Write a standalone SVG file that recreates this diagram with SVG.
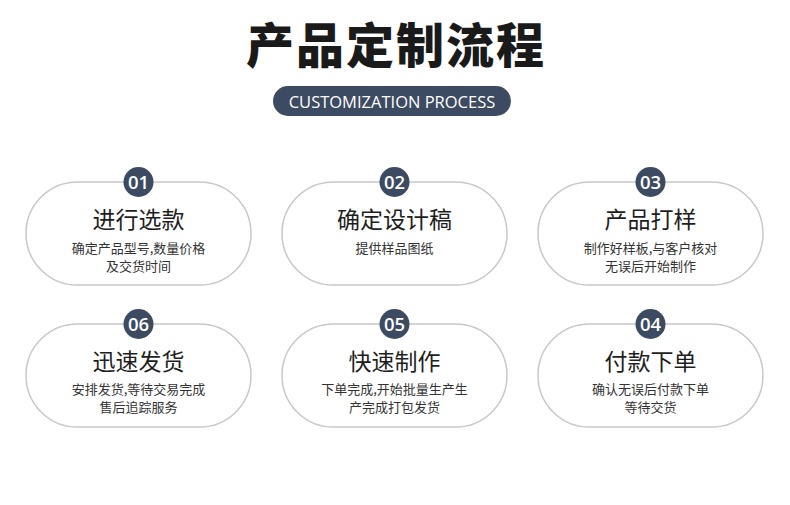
<svg xmlns="http://www.w3.org/2000/svg" width="790" height="505" viewBox="0 0 790 505">
<style>
.cjk{font-family:"Noto Sans CJK SC","Noto Sans",sans-serif;text-anchor:middle}
.title{font-size:48px;font-weight:800;fill:#1a1a1a;letter-spacing:2px}
.pill{fill:#fff;stroke:#c8c8c8;stroke-width:1.5}
.num-bg{fill:#3c4a62}
.num{font-family:"Open Sans","Noto Sans",sans-serif;font-size:18.5px;font-weight:600;fill:#fff;text-anchor:middle}
.head{font-size:23px;fill:#1e1e1e}
.desc{font-size:13px;fill:#333}
.badge-t{font-family:"Open Sans","Noto Sans",sans-serif;font-size:16.5px;font-weight:500;fill:#fff;text-anchor:middle}
</style>
<rect width="790" height="505" fill="#fff"/>
<g id="header">
<text class="cjk title" x="396" y="63">产品定制流程</text>
<rect x="273" y="86" width="238" height="30" rx="15" class="num-bg"/>
<text class="badge-t" x="392" y="107.5">CUSTOMIZATION PROCESS</text>
</g>
<g id="step01">
<rect class="pill" x="26" y="182" width="225" height="103" rx="51.5"/>
<circle class="num-bg" cx="138.5" cy="182" r="15"/>
<text class="num" x="138.5" y="188.5">01</text>
<text class="cjk head" x="138.5" y="228">进行选款</text>
<text class="cjk desc" x="138.5" y="253">确定产品型号,数量价格</text>
<text class="cjk desc" x="138.5" y="271">及交货时间</text>
</g>
<g id="step02">
<rect class="pill" x="282" y="182" width="225" height="103" rx="51.5"/>
<circle class="num-bg" cx="394.5" cy="182" r="15"/>
<text class="num" x="394.5" y="188.5">02</text>
<text class="cjk head" x="394.5" y="228">确定设计稿</text>
<text class="cjk desc" x="394.5" y="253">提供样品图纸</text>
</g>
<g id="step03">
<rect class="pill" x="538" y="182" width="225" height="103" rx="51.5"/>
<circle class="num-bg" cx="650.5" cy="182" r="15"/>
<text class="num" x="650.5" y="188.5">03</text>
<text class="cjk head" x="650.5" y="228">产品打样</text>
<text class="cjk desc" x="650.5" y="253">制作好样板,与客户核对</text>
<text class="cjk desc" x="650.5" y="271">无误后开始制作</text>
</g>
<g id="step06">
<rect class="pill" x="26" y="324" width="225" height="103" rx="51.5"/>
<circle class="num-bg" cx="138.5" cy="324" r="15"/>
<text class="num" x="138.5" y="330.5">06</text>
<text class="cjk head" x="138.5" y="370">迅速发货</text>
<text class="cjk desc" x="138.5" y="394">安排发货,等待交易完成</text>
<text class="cjk desc" x="138.5" y="412">售后追踪服务</text>
</g>
<g id="step05">
<rect class="pill" x="282" y="324" width="225" height="103" rx="51.5"/>
<circle class="num-bg" cx="394.5" cy="324" r="15"/>
<text class="num" x="394.5" y="330.5">05</text>
<text class="cjk head" x="394.5" y="370">快速制作</text>
<text class="cjk desc" x="394.5" y="394">下单完成,开始批量生产生</text>
<text class="cjk desc" x="394.5" y="412">产完成打包发货</text>
</g>
<g id="step04">
<rect class="pill" x="538" y="324" width="225" height="103" rx="51.5"/>
<circle class="num-bg" cx="650.5" cy="324" r="15"/>
<text class="num" x="650.5" y="330.5">04</text>
<text class="cjk head" x="650.5" y="370">付款下单</text>
<text class="cjk desc" x="650.5" y="394">确认无误后付款下单</text>
<text class="cjk desc" x="650.5" y="412">等待交货</text>
</g>
<g id="connectors"/>
</svg>
